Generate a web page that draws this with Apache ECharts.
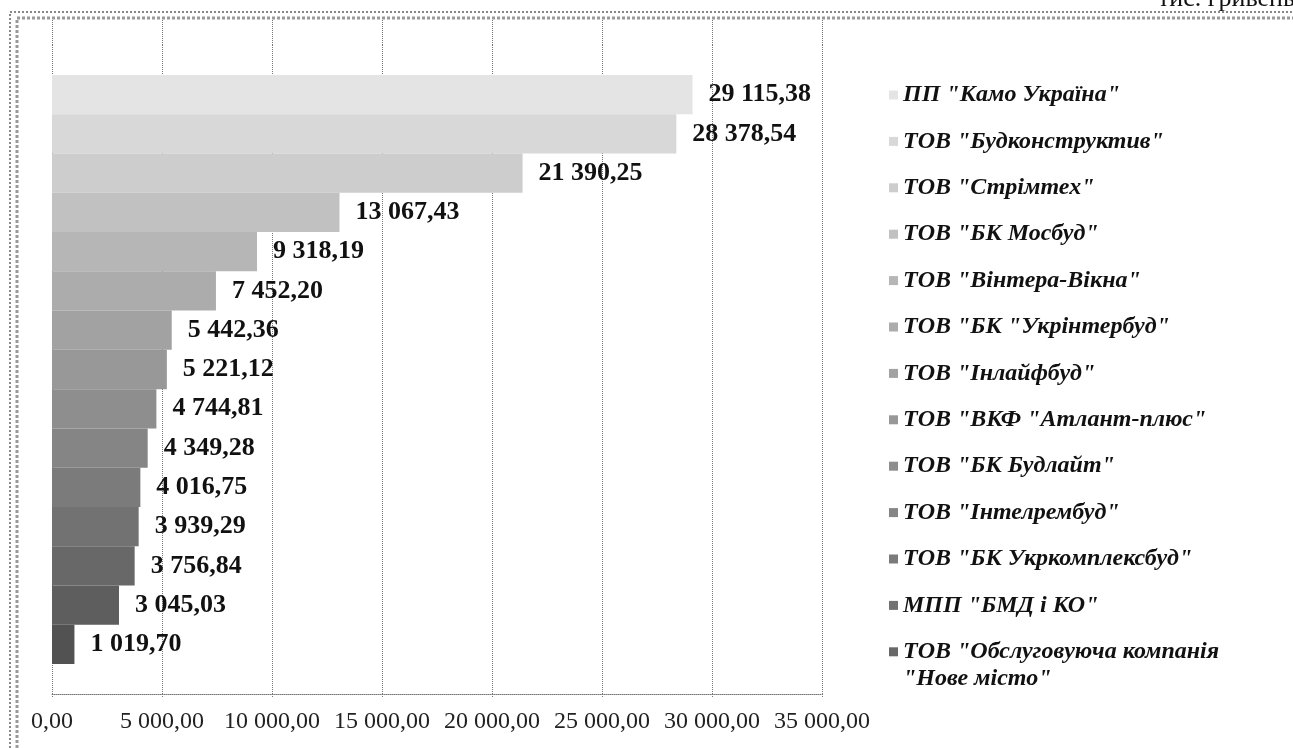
<!DOCTYPE html>
<html>
<head>
<meta charset="utf-8">
<script src="https://cdn.jsdelivr.net/npm/echarts@6/dist/echarts.min.js"></script>
<style>
html,body{margin:0;padding:0;background:#fff;}
#chart{width:1293px;height:748px;}
</style>
</head>
<body>
<div id="chart"></div>
<script>
// Data
const companies = [
  'ПП "Камо Україна"',
  'ТОВ "Будконструктив"',
  'ТОВ "Стрімтех"',
  'ТОВ "БК Мосбуд"',
  'ТОВ "Вінтера-Вікна"',
  'ТОВ "БК "Укрінтербуд"',
  'ТОВ "Інлайфбуд"',
  'ТОВ "ВКФ "Атлант-плюс"',
  'ТОВ "БК Будлайт"',
  'ТОВ "Інтелрембуд"',
  'ТОВ "БК Укркомплексбуд"',
  'МПП "БМД і КО"',
  'ТОВ "Обслуговуюча компанія "Нове місто"',
  'Ряд 14',
  'Ряд 15'
];
const legendNames = companies.slice(0, 13);
const values = [29115.38, 28378.54, 21390.25, 13067.43, 9318.19, 7452.20, 5442.36, 5221.12, 4744.81, 4349.28, 4016.75, 3939.29, 3756.84, 3045.03, 1019.70];
const xTicks = {min: 0, max: 35000, interval: 5000};
const unitText = 'тис. гривень';

const shades = ['#e4e4e4','#d8d8d8','#cdcdcd','#c1c1c1','#b6b6b6','#acacac','#a2a2a2','#989898','#8e8e8e','#858585','#7b7b7b','#727272','#686868','#5e5e5e','#525252'];

function fmt(v) {
  const parts = v.toFixed(2).split('.');
  const int = parts[0].replace(/\B(?=(\d{3})+(?!\d))/g, ' ');
  return int + ',' + parts[1];
}

const FONT = '"Liberation Serif", "Times New Roman", serif';
const SPLIT = ' "Нове';

const series = companies.map((name, i) => ({
  name: name,
  type: 'bar',
  xAxisIndex: 0,
  yAxisIndex: 0,
  barGap: '0%',
  barCategoryGap: '9.24%',
  data: [values[i]],
  itemStyle: {color: shades[i]},
  label: {
    show: true,
    position: 'right',
    distance: 16,
    formatter: p => fmt(p.value),
    fontFamily: FONT,
    fontWeight: 'bold',
    fontSize: 26,
    color: '#111'
  }
}));

const lastName = legendNames[legendNames.length - 1];
const secondLine = lastName.slice(lastName.indexOf(SPLIT) + 1);

const chart = echarts.init(document.getElementById('chart'), null, {renderer: 'canvas'});
chart.setOption({
  animation: false,
  backgroundColor: '#fff',
  grid: [
    {left: 52, right: 471, top: 45, bottom: 54, containLabel: false},
    {left: 52, right: 471, top: 20, height: 25, containLabel: false}
  ],
  xAxis: [
    {
      type: 'value', gridIndex: 0,
      min: xTicks.min, max: xTicks.max, interval: xTicks.interval,
      axisLine: {show: true, lineStyle: {color: '#777', type: 'dotted', width: 1}},
      axisTick: {show: true, length: 4, lineStyle: {color: '#777', type: 'dotted'}},
      splitLine: {show: true, lineStyle: {color: '#777', type: 'dotted', width: 1}},
      axisLabel: {fontFamily: FONT, fontSize: 24, color: '#222', margin: 16, formatter: v => fmt(v)}
    },
    {
      type: 'value', gridIndex: 1,
      min: xTicks.min, max: xTicks.max, interval: xTicks.interval,
      axisLine: {show: false}, axisTick: {show: false}, axisLabel: {show: false},
      splitLine: {show: true, lineStyle: {color: '#777', type: 'dotted', width: 1}}
    }
  ],
  yAxis: [
    {
      type: 'category', gridIndex: 0, data: [''],
      axisLine: {show: false}, axisTick: {show: false}, axisLabel: {show: false}
    },
    {
      type: 'value', gridIndex: 1, min: 0, max: 1,
      axisLine: {show: false}, axisTick: {show: false}, axisLabel: {show: false}, splitLine: {show: false}
    }
  ],
  legend: {
    data: legendNames,
    orient: 'vertical',
    left: 884,
    top: 78,
    itemWidth: 9,
    itemHeight: 9,
    itemGap: 22.4,
    icon: 'rect',
    selectedMode: false,
    formatter: n => (n.indexOf(SPLIT) >= 0 ? n.slice(0, n.indexOf(SPLIT)) : n),
    textStyle: {
      fontFamily: FONT, fontStyle: 'italic', fontWeight: 'bold',
      fontSize: 24, lineHeight: 24, color: '#111'
    }
  },
  graphic: [
    {type: 'rect', shape: {x: 10, y: 12, width: 1400, height: 900}, style: {fill: 'none', stroke: '#888', lineWidth: 2, lineDash: [2, 2]}, silent: true},
    {type: 'rect', shape: {x: 17, y: 18, width: 1400, height: 900}, style: {fill: 'none', stroke: '#999', lineWidth: 3, lineDash: [3, 2]}, silent: true},
    {type: 'text', left: 1158, top: -14, style: {text: unitText, font: '26px "Liberation Serif", serif', fill: '#111'}, silent: true},
    {type: 'text', left: 903, top: 667, style: {text: secondLine, font: 'italic bold 24px "Liberation Serif", serif', fill: '#111'}, silent: true}
  ],
  series: series
});
</script>
</body>
</html>
